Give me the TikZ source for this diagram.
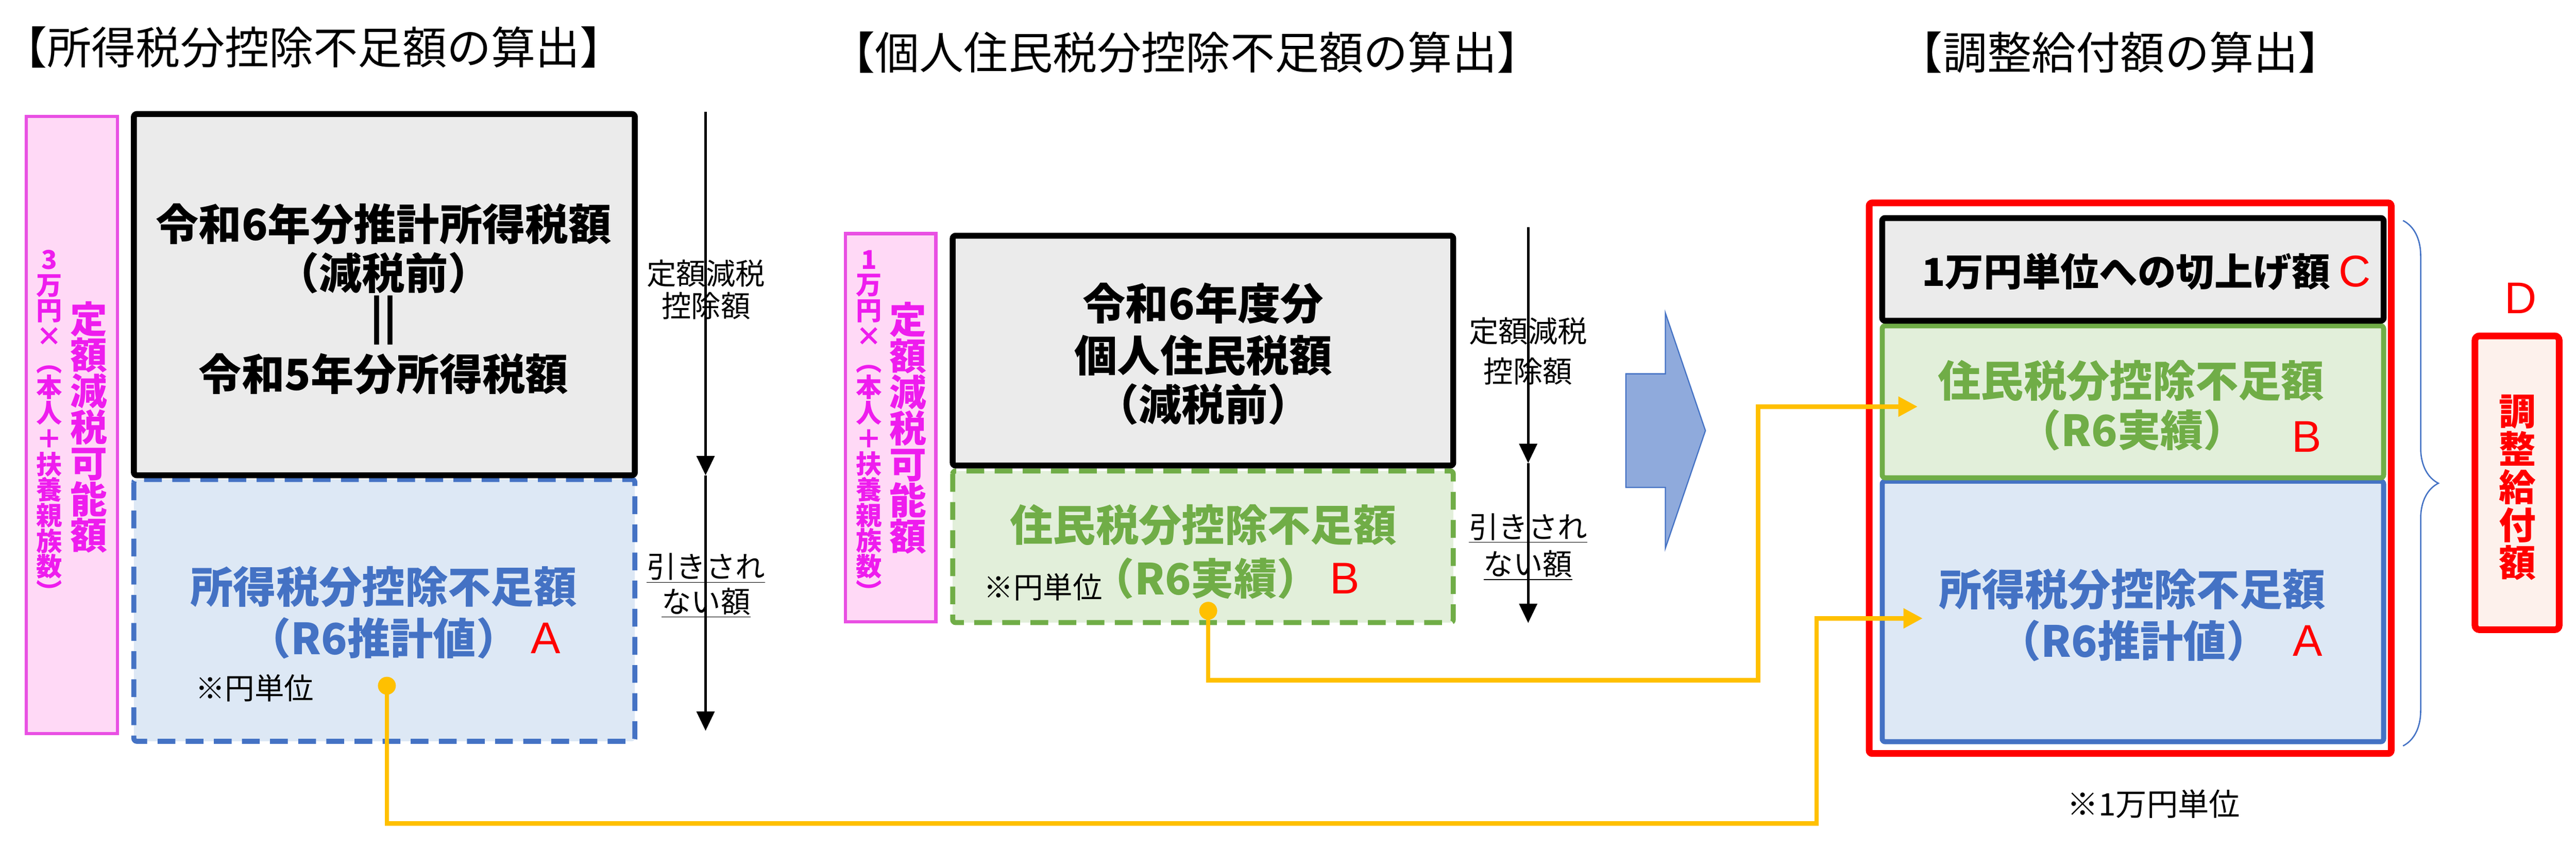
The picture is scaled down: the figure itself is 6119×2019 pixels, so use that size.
\documentclass[tikz,border=0pt]{standalone}
\usepackage{fontspec}
\setmainfont{Noto Sans CJK JP}
\newfontfamily\lat{Liberation Sans}
\usetikzlibrary{arrows.meta,decorations.pathreplacing}
\definecolor{pinkfill}{HTML}{FFD9F6}
\definecolor{pinkline}{HTML}{E94FE3}
\definecolor{pinktext}{HTML}{EE1CEE}
\definecolor{grayfill}{HTML}{EBEBEB}
\definecolor{bluel}{HTML}{4472C4}
\definecolor{bluefill}{HTML}{DDE8F5}
\definecolor{greenl}{HTML}{70AD47}
\definecolor{greenfill}{HTML}{E2EFDA}
\definecolor{yel}{HTML}{FFC000}
\definecolor{arrowfill}{HTML}{8FAADC}
\definecolor{dfill}{HTML}{FDF1EC}
\newcommand{\fs}[2]{\fontsize{#1pt}{#2pt}\selectfont}
\tikzset{
  pinkbox/.style={draw=pinkline,fill=pinkfill,line width=2.2pt},
  graybox/.style={draw=black,fill=grayfill,line width=4pt,rounded corners=2pt},
  bluedash/.style={draw=bluel,fill=bluefill,line width=3.4pt,dash pattern=on 12pt off 7pt,rounded corners=2pt},
  greendash/.style={draw=greenl,fill=greenfill,line width=3.4pt,dash pattern=on 12pt off 7pt,rounded corners=2pt},
  t/.style={inner sep=0,anchor=center},
  big/.style={t,font=\fs{29}{32}\bfseries},
  lbl/.style={t,font=\fs{20}{22}},
  letter/.style={t,text=red,font=\lat\fs{30}{32}},
  vline/.style={line width=1.7pt,-{Triangle[width=12pt,length=13pt]}},
  ylink/.style={draw=yel,line width=3pt},
  yarrow/.style={ylink,-{Triangle[width=13pt,length=13pt]}},
  ydot/.style={circle,fill=yel,minimum size=12pt,inner sep=0},
  vtxt/.style={t,align=center,text=pinktext},
}
\begin{document}
\begin{tikzpicture}[x=0.01cm,y=-0.01cm]
\useasboundingbox (0,0) rectangle (6119,2019);
% titles
\node[t,font=\fs{30}{33}] (t1) at (745,112) {【所得税分控除不足額の算出】};
\node[t,font=\fs{30}{33}] (t2) at (2817,125) {【個人住民税分控除不足額の算出】};
\node[t,font=\fs{30}{33}] (t3) at (5037,125) {【調整給付額の算出】};

% ---------- section 1
\draw[pinkbox] (62,277) rectangle (279,1743);
\node[vtxt,font=\fs{17.5}{17.3}\bfseries] (p1a) at (117,1012) {3\\万\\円\\×\\︵\\本\\人\\＋\\扶\\養\\親\\族\\数\\︶};
\node[vtxt,font=\fs{25}{24.4}\bfseries] (p1b) at (211,1015) {定\\額\\減\\税\\可\\能\\額};
\draw[bluedash] (318,1139) rectangle (1508,1761);
\draw[graybox] (318,271) rectangle (1508,1129);
\node[big] (s1a) at (911,532) {令和6年分推計所得税額};
\node[big] (s1b) at (911,649) {（減税前）};
\node[big] (s1c) at (911,761) {||};
\node[big] (s1d) at (911,889) {令和5年分所得税額};
\node[big,text=bluel] (s1e) at (911,1394) {所得税分控除不足額};
\node[big,text=bluel] (s1f) at (911,1516) {（R6推計値）};
\node[letter] (A1) at (1296,1516) {A};
\node[lbl] (u1) at (605,1634) {※円単位};
\coordinate (a1top) at (1676,266);
\coordinate (a1mid) at (1676,1129);
\coordinate (a1bot) at (1676,1736);
\draw[vline] (a1top) -- (a1mid);
\draw[vline] (a1mid) -- (a1bot);
\node[lbl] (l1a) at (1677,649) {定額減税};
\node[lbl] (l1b) at (1677,727) {控除額};
\node[lbl] (l1c) at (1677,1350) {\underline{引きされ}};
\node[lbl] (l1d) at (1677,1432) {\underline{ない額}};

% ---------- section 2
\draw[pinkbox] (2008,555) rectangle (2223,1477);
\node[vtxt,font=\fs{17.5}{17.3}\bfseries] (p2a) at (2064,1012) {1\\万\\円\\×\\︵\\本\\人\\＋\\扶\\養\\親\\族\\数\\︶};
\node[vtxt,font=\fs{25}{24.4}\bfseries] (p2b) at (2157,1017) {定\\額\\減\\税\\可\\能\\額};
\draw[greendash] (2263,1119) rectangle (3452,1479);
\draw[graybox] (2263,560) rectangle (3452,1106);
\node[big] (s2a) at (2858,721) {令和6年度分};
\node[big] (s2b) at (2858,844) {個人住民税額};
\node[big] (s2c) at (2858,961) {（減税前）};
\node[big,text=greenl] (s2d) at (2858,1247) {住民税分控除不足額};
\node[big,text=greenl] (s2e) at (2864,1374) {（R6実績）};
\node[letter] (B1) at (3195,1374) {B};
\node[lbl] (u2) at (2478,1395) {※円単位};
\coordinate (a2top) at (3630,540);
\coordinate (a2mid) at (3630,1100);
\coordinate (a2bot) at (3630,1480);
\draw[vline] (a2top) -- (a2mid);
\draw[vline] (a2mid) -- (a2bot);
\node[lbl] (l2a) at (3630,787) {定額減税};
\node[lbl] (l2b) at (3630,882) {控除額};
\node[lbl] (l2c) at (3630,1255) {\underline{引きされ}};
\node[lbl] (l2d) at (3630,1343) {\underline{ない額}};

% big arrow
\draw[draw=bluel,fill=arrowfill,line width=0.8pt]
  (3862,888) -- (3956,888) -- (3956,744) -- (4051,1023) -- (3956,1302) -- (3956,1158) -- (3862,1158) -- cycle;

% ---------- section 3
\draw[red,line width=4.5pt,rounded corners=2pt] (4440,482) rectangle (5680,1790);
\draw[draw=bluel,fill=bluefill,line width=3.4pt,rounded corners=2pt] (4471,1143) rectangle (5662,1762);
\draw[draw=greenl,fill=greenfill,line width=3.4pt,rounded corners=2pt] (4471,774) rectangle (5662,1135);
\draw[graybox] (4471,518) rectangle (5662,762);
\node[t,font=\fs{26}{28}\bfseries] (c1) at (5050,645) {1万円単位への切上げ額};
\node[letter] (C1) at (5594,645) {C};
\node[big,text=greenl] (g3a) at (5062,905) {住民税分控除不足額};
\node[big,text=greenl] (g3b) at (5065,1022) {（R6実績）};
\node[letter] (B3) at (5479,1038) {B};
\node[big,text=bluel] (b3a) at (5065,1400) {所得税分控除不足額};
\node[big,text=bluel] (b3b) at (5068,1522) {（R6推計値）};
\node[letter] (A3) at (5482,1522) {A};
\node[t,font=\fs{21}{23}] (u3) at (5116,1910) {※1万円単位};
\coordinate (brT) at (5708,524);
\coordinate (brB) at (5708,1772);
\draw[bluel,line width=0.9pt,decorate,decoration={brace,amplitude=0.84cm}] (brT) -- (brB);
\node[letter] (D1) at (5987,708) {D};
\draw[red,fill=dfill,line width=4.5pt,rounded corners=3pt] (5879,798) rectangle (6079,1496);
\node[t,align=center,text=red,font=\fs{25}{25.6}\bfseries] (dtx) at (5980,1158) {調\\整\\給\\付\\額};

% ---------- yellow connectors
\node[ydot] (dA) at (919,1629) {};
\node[ydot] (dB) at (2870,1451) {};
\coordinate (tA) at (4567,1469);
\coordinate (tB) at (4555,966);
\draw[yarrow] (dA.center) |- (4315,1956) |- (tA);
\draw[yarrow] (dB.center) |- (4176,1616) |- (tB);
\node[ydot] at (dA) {};
\node[ydot] at (dB) {};
\end{tikzpicture}
\end{document}
